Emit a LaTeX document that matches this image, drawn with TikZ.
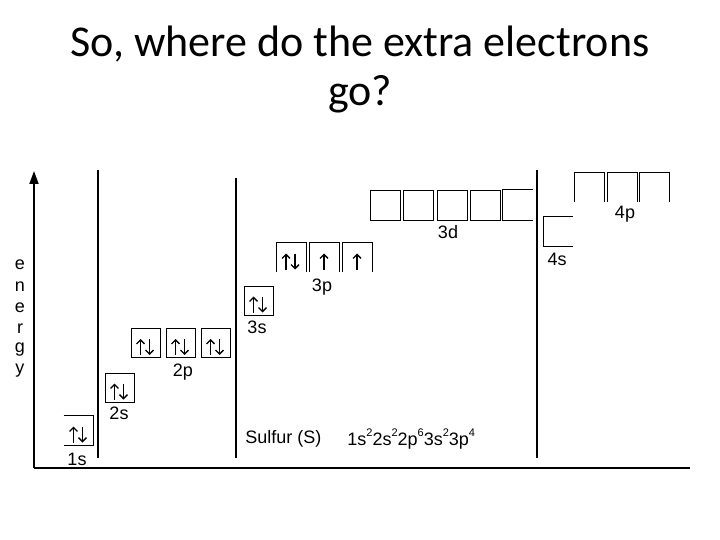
\documentclass[tikz,border=0pt]{standalone}
\usepackage{fontspec}
\setmainfont{Liberation Sans}
\newfontfamily\titlefont{Carlito}
\usetikzlibrary{arrows.meta}
\newcommand{\supnum}[1]{\raisebox{0.5em}{\fontsize{11}{11}\selectfont #1}}
\tikzset{orb/.style={minimum size=29pt, inner sep=0pt, font=\fontsize{18}{20}\selectfont},
  lbl/.style={font=\fontsize{18}{20}\selectfont, inner sep=0pt},
  wall/.style={line width=2.2pt},
  spin/.style={line width=1.4pt, -{Straight Barb[length=4pt,width=8pt,line width=1.4pt]}},
  spinup/.pic={\draw[spin] (0,12) -- (0,-4);},
  spinpair/.pic={\draw[spin] (-5,12) -- (-5,-4); \draw[spin] (4,-4) -- (4,12);}}

\begin{document}
\begin{tikzpicture}[x=1pt, y=-1pt, line width=0.8pt]
    \useasboundingbox (0,0) rectangle (720,540);
    % title
    \node[font=\titlefont\fontsize{44}{52}\selectfont, anchor=base] (title1) at (360,57) {So, where do the extra electrons};
    \node[font=\titlefont\fontsize{44}{52}\selectfont, anchor=base] (title2) at (360,106) {go?};
    % axes and walls
    \coordinate (origin) at (34,468);
    \coordinate (top) at (34,171);
    \coordinate (right) at (690,468);
    \draw[line width=1.8pt, -{Triangle[length=13pt,width=9pt]}] (origin) -- (top);
    \draw[line width=1.3pt] (origin) -- (right);
    \draw[wall] (98,170) -- (98,458);
    \draw[wall] (236,178) -- (236,458);
    \draw[wall] (537,170) -- (537,458);
    % energy
    \foreach \ch/\yy in {e/265,n/287,e/308,r/329,g/350,y/371}
        \node[lbl] at (20,\yy) {\ch};
    % 1s and 2s, 2p
    \node[orb] (s1) at (78.5,430.5) {};
    \draw (s1.north west) -| (s1.south east) -- (s1.south west);
    \pic at (s1) {spinpair};
    \node[lbl] (s1lbl) at (77,459) {1s};
    \node[orb, draw] (s2) at (119.5,387.5) {};
    \pic at (s2) {spinpair};
    \node[lbl] (s2lbl) at (119,413) {2s};
    \foreach \xx/\n in {145.5/1,180.5/2,215.5/3}{
        \node[orb, draw] (p2\n) at (\xx,343) {};
        \pic at (p2\n) {spinpair};
    }
    \node[lbl] (p2lbl) at (183,372) {2p};
    % 3s, 3p
    \node[orb, draw] (s3) at (258.5,300.5) {};
    \pic at (s3) {spinpair};
    \node[lbl] (s3lbl) at (257,327) {3s};
    \foreach \xx/\n/\e in {291/1/spinpair,324/2/spinup,357/3/spinup}{
        \node[orb] (p3\n) at (\xx,257.5) {};
        \draw (p3\n.south west) |- (p3\n.north east) -- (p3\n.south east);
        \pic at (p3\n) {\e};
    }
    \node[lbl] (p3lbl) at (322,287) {3p};
    % 3d
    \foreach \xx/\n in {385/1,418/2,452/3,485/4}
        \node[orb, draw, minimum size=30pt] (d3\n) at (\xx,205) {};
    \node[orb, minimum size=30pt] (d35) at (517.5,205) {};
    \draw (d35.north east) -| (d35.south west) -- (d35.south east);
    \node[lbl] (d3lbl) at (448,232) {3d};
    % 4s, 4p
    \node[orb] (s4) at (558,231.5) {};
    \draw (s4.north east) -| (s4.south west) -- (s4.south east);
    \node[lbl] (s4lbl) at (557,259) {4s};
    \foreach \xx/\n in {589.5/1,622/2,654.5/3}{
        \node[orb] (p4\n) at (\xx,187) {};
        \draw (p4\n.south west) |- (p4\n.north east) -- (p4\n.south east);
    }
    \node[lbl] (p4lbl) at (625,214) {4p};
    % sulfur
    \node[lbl, anchor=west] (name) at (245,439) {Sulfur (S)};
    \node[lbl, anchor=west] (config) at (347,439) {1s\supnum{2}2s\supnum{2}2p\supnum{6}3s\supnum{2}3p\supnum{4}};
\end{tikzpicture}
\end{document}
